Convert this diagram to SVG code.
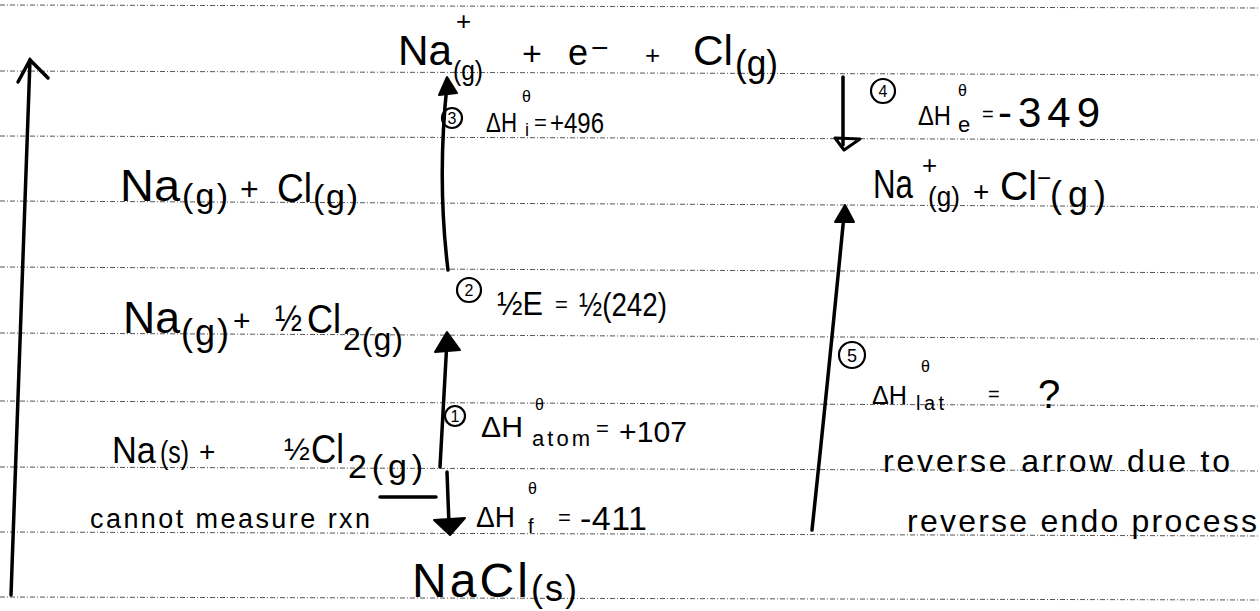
<svg xmlns="http://www.w3.org/2000/svg" width="1260" height="611" viewBox="0 0 1260 611">
<style>
.t{font-family:"Liberation Sans","DejaVu Sans",sans-serif;fill:#000}
.rule{stroke:#555;stroke-width:1;stroke-dasharray:5 2 1 2;fill:none}
.ln{stroke:#000;stroke-width:3.5;fill:none;stroke-linecap:round}
.hd{fill:#000;stroke:#000;stroke-width:2;stroke-linejoin:round}
.cir{fill:none;stroke:#000;stroke-width:2.2}
</style>
<rect width="1260" height="611" fill="#fff"/>
<g id="paper-lines">
<line class="rule" x1="0" y1="5" x2="1260" y2="8"/>
<line class="rule" x1="0" y1="71" x2="1260" y2="75"/>
<line class="rule" x1="0" y1="136" x2="1260" y2="140"/>
<line class="rule" x1="0" y1="201" x2="1260" y2="207"/>
<line class="rule" x1="0" y1="267" x2="1260" y2="273"/>
<line class="rule" x1="0" y1="333" x2="1260" y2="339"/>
<line class="rule" x1="0" y1="401" x2="1260" y2="406"/>
<line class="rule" x1="0" y1="467" x2="1260" y2="471"/>
<line class="rule" x1="0" y1="532" x2="1260" y2="536"/>
<line class="rule" x1="0" y1="597" x2="1260" y2="600"/>
</g>
<g id="connectors">
<path class="ln" d="M11 595 L30 60"/>
<path class="ln" d="M18 82 L30 60 L48 78"/>
<path class="ln" d="M448 270 Q437 180 447 85"/>
<path class="hd" d="M447 77 L439 95 L457 93 Z"/>
<path class="ln" d="M843 77 L843 145"/>
<path d="M835 138 L860 139 L844 150 Z" fill="none" stroke="#000" stroke-width="3" stroke-linejoin="round"/>
<path class="ln" d="M440 467 L447 340"/>
<path class="hd" d="M447 332 L435 352 L460 350 Z"/>
<path class="ln" d="M447 472 L449 525"/>
<path class="hd" d="M434 520 L465 518 L450 535 Z"/>
<path class="ln" d="M380 497 L436 497" stroke-width="3"/>
<path class="ln" d="M812 530 Q828 380 844 215"/>
<path class="hd" d="M845 205 L835 222 L854 222 Z"/>
</g>
<g id="node-top">
<text class="t" x="456" y="30" font-size="26">+</text>
<text class="t" x="398" y="65" font-size="42" textLength="54" lengthAdjust="spacingAndGlyphs">Na</text>
<text class="t" x="453" y="80" font-size="28" textLength="30" lengthAdjust="spacingAndGlyphs">(g)</text>
<text class="t" x="522" y="65" font-size="34">+</text>
<text class="t" x="568" y="65" font-size="36">e</text>
<text class="t" x="591" y="58" font-size="30">−</text>
<text class="t" x="645" y="64" font-size="26">+</text>
<text class="t" x="693" y="65" font-size="42" textLength="40" lengthAdjust="spacingAndGlyphs">Cl</text>
<text class="t" x="735" y="76" font-size="36" textLength="43" lengthAdjust="spacingAndGlyphs">(g)</text>
</g>
<g id="node-na-cl-gas">
<text class="t" x="120" y="201" font-size="44" textLength="60" lengthAdjust="spacingAndGlyphs">Na</text>
<text class="t" x="182" y="207" font-size="34" textLength="46" lengthAdjust="spacing">(g)</text>
<text class="t" x="240" y="200" font-size="32">+</text>
<text class="t" x="277" y="202" font-size="40" textLength="35" lengthAdjust="spacingAndGlyphs">Cl</text>
<text class="t" x="313" y="208" font-size="34" textLength="45" lengthAdjust="spacing">(g)</text>
</g>
<g id="node-ions">
<text class="t" x="873" y="198" font-size="40" textLength="40" lengthAdjust="spacingAndGlyphs">Na</text>
<text class="t" x="922" y="174" font-size="26">+</text>
<text class="t" x="928" y="206" font-size="28" textLength="32" lengthAdjust="spacingAndGlyphs">(g)</text>
<text class="t" x="973" y="201" font-size="28">+</text>
<text class="t" x="1000" y="200" font-size="40" textLength="37" lengthAdjust="spacingAndGlyphs">Cl</text>
<text class="t" x="1037" y="186" font-size="24">−</text>
<text class="t" x="1050" y="207" font-size="36" textLength="56" lengthAdjust="spacing">(g)</text>
</g>
<g id="node-na-halfcl2-gas">
<text class="t" x="123" y="333" font-size="44" textLength="57" lengthAdjust="spacingAndGlyphs">Na</text>
<text class="t" x="181" y="345" font-size="36" textLength="48" lengthAdjust="spacing">(g)</text>
<text class="t" x="233" y="331" font-size="30">+</text>
<text class="t" x="275" y="331" font-size="36" textLength="27" lengthAdjust="spacingAndGlyphs">½</text>
<text class="t" x="307" y="333" font-size="40" textLength="34" lengthAdjust="spacingAndGlyphs">Cl</text>
<text class="t" x="343" y="350" font-size="32" textLength="60" lengthAdjust="spacing">2(g)</text>
</g>
<g id="node-elements">
<text class="t" x="112" y="463" font-size="37" textLength="44" lengthAdjust="spacingAndGlyphs">Na</text>
<text class="t" x="160" y="463" font-size="32" textLength="29" lengthAdjust="spacingAndGlyphs">(s)</text>
<text class="t" x="199" y="461" font-size="28">+</text>
<text class="t" x="284" y="460" font-size="31">½</text>
<text class="t" x="311" y="463" font-size="40" textLength="33" lengthAdjust="spacingAndGlyphs">Cl</text>
<text class="t" x="348" y="478" font-size="34" textLength="75" lengthAdjust="spacing">2(g)</text>
</g>
<g id="node-nacl">
<text class="t" x="412" y="597" font-size="48" textLength="116" lengthAdjust="spacing">NaCl</text>
<text class="t" x="531" y="601" font-size="36" textLength="46" lengthAdjust="spacing">(s)</text>
</g>
<g id="label-3">
<circle class="cir" cx="452" cy="118" r="10"/>
<text class="t" x="452" y="124" font-size="16" text-anchor="middle">3</text>
<text class="t" x="486" y="132" font-size="28" textLength="31" lengthAdjust="spacingAndGlyphs">ΔH</text>
<text class="t" x="522" y="102" font-size="16">θ</text>
<text class="t" x="525" y="136" font-size="18">i</text>
<text class="t" x="534" y="130" font-size="22">=</text>
<text class="t" x="550" y="133" font-size="30" textLength="54" lengthAdjust="spacingAndGlyphs">+496</text>
</g>
<g id="label-2">
<circle class="cir" cx="469" cy="290" r="12"/>
<text class="t" x="469" y="296" font-size="16" text-anchor="middle">2</text>
<text class="t" x="497" y="315" font-size="34" textLength="46" lengthAdjust="spacingAndGlyphs">½E</text>
<text class="t" x="555" y="312" font-size="22">=</text>
<text class="t" x="579" y="316" font-size="34" textLength="88" lengthAdjust="spacingAndGlyphs">½(242)</text>
</g>
<g id="label-1">
<circle class="cir" cx="455" cy="416" r="10"/>
<text class="t" x="455" y="422" font-size="16" text-anchor="middle">1</text>
<text class="t" x="481" y="437" font-size="30" textLength="42" lengthAdjust="spacingAndGlyphs">ΔH</text>
<text class="t" x="535" y="410" font-size="16">θ</text>
<text class="t" x="532" y="446" font-size="22" textLength="58" lengthAdjust="spacing">atom</text>
<text class="t" x="596" y="436" font-size="22">=</text>
<text class="t" x="619" y="442" font-size="30" textLength="68" lengthAdjust="spacingAndGlyphs">+107</text>
</g>
<g id="label-formation">
<text class="t" x="476" y="527" font-size="30" textLength="39" lengthAdjust="spacingAndGlyphs">ΔH</text>
<text class="t" x="528" y="494" font-size="16">θ</text>
<text class="t" x="528" y="533" font-size="20">f</text>
<text class="t" x="558" y="525" font-size="22">=</text>
<text class="t" x="580" y="530" font-size="34" textLength="67" lengthAdjust="spacing">-411</text>
</g>
<g id="label-4">
<circle class="cir" cx="883" cy="91" r="12"/>
<text class="t" x="883" y="97" font-size="16" text-anchor="middle">4</text>
<text class="t" x="918" y="125" font-size="28" textLength="33" lengthAdjust="spacingAndGlyphs">ΔH</text>
<text class="t" x="958" y="96" font-size="16">θ</text>
<text class="t" x="958" y="132" font-size="22">e</text>
<text class="t" x="982" y="121" font-size="20">=</text>
<text class="t" x="998" y="127" font-size="42" textLength="102" lengthAdjust="spacing">-349</text>
</g>
<g id="label-5">
<circle class="cir" cx="852" cy="355" r="13"/>
<text class="t" x="852" y="362" font-size="18" text-anchor="middle">5</text>
<text class="t" x="872" y="404" font-size="26" textLength="35" lengthAdjust="spacingAndGlyphs">ΔH</text>
<text class="t" x="921" y="372" font-size="16">θ</text>
<text class="t" x="916" y="410" font-size="20" textLength="28" lengthAdjust="spacing">lat</text>
<text class="t" x="988" y="401" font-size="20">=</text>
<text class="t" x="1038" y="408" font-size="40">?</text>
</g>
<g id="notes">
<text class="t" x="90" y="528" font-size="27" textLength="280" lengthAdjust="spacing">cannot measure rxn</text>
<text class="t" x="883" y="472" font-size="32" textLength="347" lengthAdjust="spacing">reverse arrow due to</text>
<text class="t" x="907" y="532" font-size="32" textLength="350" lengthAdjust="spacing">reverse endo process</text>
</g>
</svg>
